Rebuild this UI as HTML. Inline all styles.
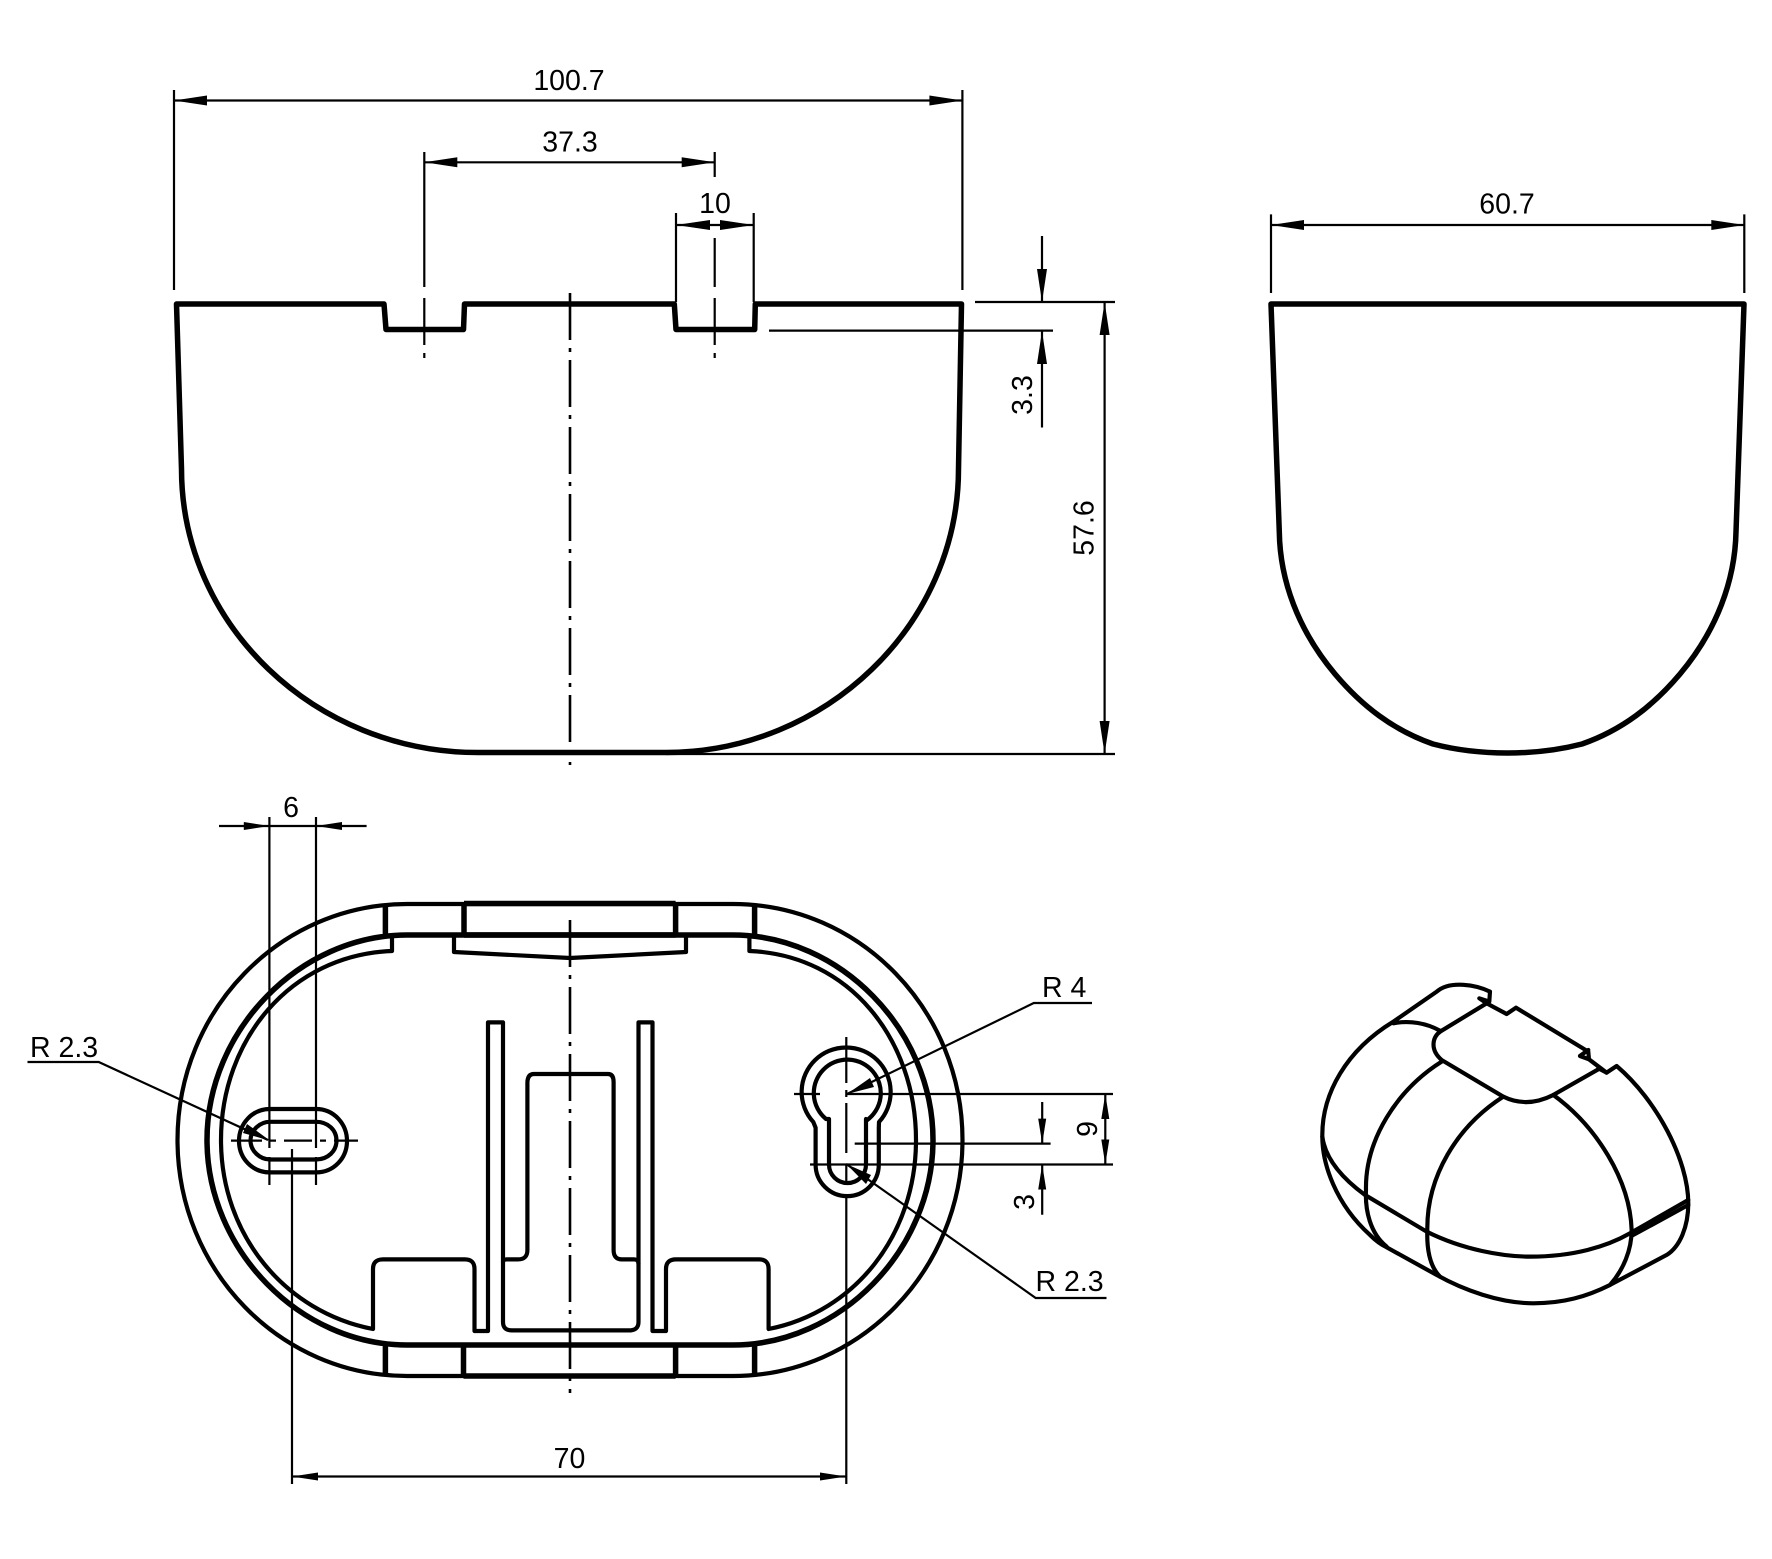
<!DOCTYPE html>
<html><head><meta charset="utf-8"><style>html,body{margin:0;padding:0;background:#fff}svg{display:block}text{font-family:"Liberation Sans",sans-serif;font-size:28.5px;fill:#000}</style></head>
<body>
<svg width="1772" height="1559" viewBox="0 0 1772 1559" xmlns="http://www.w3.org/2000/svg">
<rect width="1772" height="1559" fill="#fff"/>
<!-- thin lines -->
<g fill="none" stroke="#000" stroke-width="2.2">
<path d="M174,90V290M962.4,90V290M174,100.5H962.4"/>
<path d="M424.3,152V287M714.7,152V177M424.3,162.3H714.7"/>
<path d="M676,213V302M753.7,213V302M676,225H753.7"/>
<path d="M714.7,238V287"/>
<path d="M975,302H1115M769,330.6H1053M666,754H1115M1042,236V302M1042,331V427.5M1104.6,302V754"/>
<path d="M1271,214.4V293M1744.3,214.4V293M1271,225H1744.3"/>
<path d="M219,826H366.6M269.4,817V1148M316,817V1148M269.4,1157V1185M316,1157V1185"/>
<path d="M292,1149V1484M292,1476.5H846M846.3,1196V1484"/>
<path d="M27.5,1062H98.7L268,1140"/>
<path d="M1092,1003H1033.8L847,1094"/>
<path d="M1106.5,1298H1035.7L846.3,1164"/>
<path d="M847,1094H1113M830,1164.5H1113M854.7,1143.6H1050.6M1105.3,1094V1164.5M1042.2,1102V1143.6M1042.2,1164.5V1214.7"/>
<path d="M794,1094H820M810,1164.5H828"/>
<path d="M846.3,1037V1083M846.3,1090V1097M846.3,1103V1153M846.3,1165V1183"/>
</g>
<!-- centre lines -->
<g fill="none" stroke="#000" stroke-width="2.6" stroke-dasharray="47 8 4 8">
<path d="M570,293V765"/>
<path d="M570,920V1393"/>
</g>
<g fill="none" stroke="#000" stroke-width="2.2">
<path d="M424.3,298V345M424.3,353V358M714.7,298V345M714.7,353V358"/>
<path d="M231,1140.6H262M270,1140.6H276M284,1140.6H312M320,1140.6H326M334,1140.6H358"/>
</g>
<!-- arrows -->
<g fill="#000" stroke="none">
<polygon points="174,100.5 207,95.5 207,105.5"/><polygon points="962.4,100.5 929.4,95.5 929.4,105.5"/>
<polygon points="424.3,162.3 457.3,157.3 457.3,167.3"/><polygon points="714.7,162.3 681.7,157.3 681.7,167.3"/>
<polygon points="676,225 710,220 710,230"/><polygon points="753.7,225 720,220 720,230"/>
<polygon points="1042,302 1037,269 1047,269"/><polygon points="1042,331 1037,364 1047,364"/>
<polygon points="1104.6,302 1099.6,335 1109.6,335"/><polygon points="1104.6,754 1099.6,721 1109.6,721"/>
<polygon points="1271,225 1304,220 1304,230"/><polygon points="1744.3,225 1711.3,220 1711.3,230"/>
<polygon points="269.4,826 243.8,822 243.8,830"/><polygon points="316,826 342,822 342,830"/>
<polygon points="292,1476.5 318,1472.5 318,1480.5"/><polygon points="846,1476.5 820,1472.5 820,1480.5"/>
<polygon points="270,1140.6 247,1124 243,1133"/>
<polygon points="847,1094 870,1078 874,1087"/>
<polygon points="846.3,1164 871,1175 866,1184"/>
<polygon points="1105.3,1094 1101.3,1119 1109.3,1119"/><polygon points="1105.3,1164.5 1101.3,1139.5 1109.3,1139.5"/>
<polygon points="1042.2,1143.6 1038.2,1118.6 1046.2,1118.6"/><polygon points="1042.2,1164.5 1038.2,1189.5 1046.2,1189.5"/>
</g>
<!-- front and side profile -->
<g fill="none" stroke="#000" stroke-width="5.5" stroke-linejoin="round" stroke-linecap="round">
<path d="M176.5,304H384L386,329.5H463.5L464.5,304H674.3L676,329.5H754.7L755.3,304H961.5L958.5,469C958.5,625 825,752.5 666,752.5H478C315,752.5 181.5,625 181.5,469Z"/>
<path d="M1271,304H1744L1736,532C1735,580 1717,630 1680,674C1653,706 1622,730 1582,744C1555,751 1530,753 1507.5,753C1485,753 1460,751 1433,744C1393,730 1362,706 1335,674C1298,630 1280,580 1279.3,532Z"/>
</g>
<!-- bottom view medium lines -->
<g fill="none" stroke="#000" stroke-width="4.2" stroke-linejoin="round" stroke-linecap="round">
<path d="M407,904H733C860,904 962.5,1010 962.5,1140C962.5,1270 860,1376 733,1376H407C280,1376 177.5,1270 177.5,1140C177.5,1010 280,904 407,904Z"/>
<path d="M392,951C290,955 221,1040 221,1140C221,1235 285,1312 373,1329V1269Q373,1259.4 383,1259.4H465Q474.5,1259.4 474.5,1269V1331H488V1022.4H503V1322Q503,1330.4 512,1330.4H629Q638.5,1330.4 638.5,1322V1022.4H652.5V1331H666V1269Q666,1259.4 676,1259.4H759Q768.6,1259.4 768.6,1269V1329C855,1312 916,1235 916,1140C916,1040 850,955 749.4,951V936M392,951V936"/>
<path d="M503,1262Q503,1259.4 507,1259.4H518Q527.4,1259.4 527.4,1250V1083Q527.4,1074 534,1074H608Q613.6,1074 613.6,1082V1250Q613.6,1259.4 622,1259.4H634Q638.5,1259.4 638.5,1264"/>
<path d="M454,937V952L570,958L686,952V937"/>
<path d="M250.5,1140.6C250.5,1130 260,1121.8 270,1121.8H316C328,1121.8 336.5,1130 336.5,1140.6C336.5,1151 328,1159.5 316,1159.5H270C260,1159.5 250.5,1151 250.5,1140.6Z"/>
<path d="M270,1109H316C334,1109 347,1124 347,1141C347,1158 334,1172.4 316,1172.4H270C252,1172.4 239,1158 239,1141C239,1124 252,1109 270,1109Z"/>
<path d="M815.6,1127.7L813.3,1122A44.5,44.5 0 1 1 879,1122L878.8,1127.7V1164.5A31.6,31.6 0 0 1 815.6,1164.5Z"/>
<path d="M829,1164.5V1119H826A33.5,33.5 0 1 1 866.6,1120.5L866,1119V1164.5A18.5,18.5 0 0 1 829,1164.5Z"/>
</g>
<!-- bottom view thick lines -->
<g fill="none" stroke="#000" stroke-width="5.5" stroke-linejoin="round">
<path d="M385.4,904V936M464,904V936M675.6,904V936M754.6,904V936"/>
<path d="M385.4,1345V1376M463.5,1345V1376M675.6,1345V1376M754.6,1345V1376"/>
<path d="M464,903.5H675.6M463.5,1376H675.6M464,935H675.6"/>
<path d="M407,935H733C840,935 933,1030 933,1140C933,1250 840,1345 733,1345H407C300,1345 207,1250 207,1140C207,1030 300,935 407,935Z"/>
</g>
<!-- isometric view -->
<g transform="translate(1290,960) scale(.3333)" fill="none" stroke="#000" stroke-width="12.5" stroke-linejoin="round" stroke-linecap="round">
<path d="M600,95C560,75 480,60 440,95L310,185C170,270 95,400 97,530C97,610 135,730 240,825C255,840 270,852 290,862L440,945C520,990 630,1030 730,1030C820,1030 890,1010 960,975L1130,885C1170,860 1195,800 1195,730C1195,600 1100,420 980,318L950,338L925,325"/>
<path d="M600,95L598,125L568,115L590,130"/>
<path d="M590,130L455,212C425,230 420,270 455,300L640,410C690,435 740,430 790,405L925,328"/>
<path d="M590,130L650,162L678,143L895,275L897,298L870,288L895,270M897,298L950,338"/>
<path d="M310,190C360,180 410,190 450,212"/>
<path d="M455,305C320,390 225,540 228,690C225,750 240,820 290,860"/>
<path d="M640,410C500,500 410,650 412,810C410,870 420,920 450,950"/>
<path d="M790,405C920,500 1020,660 1025,810C1025,870 1000,930 960,975"/>
<path d="M97,530C105,590 150,650 225,705L410,815C520,870 640,890 720,890C850,890 950,860 1020,820L1195,720"/>
<path d="M1030,825L1195,735"/>
</g>
<!-- labels -->
<text x="569" y="90" text-anchor="middle">100.7</text>
<text x="570" y="151.5" text-anchor="middle">37.3</text>
<text x="715" y="213" text-anchor="middle">10</text>
<text x="1507" y="213.5" text-anchor="middle">60.7</text>
<text x="291" y="817" text-anchor="middle">6</text>
<text x="569.5" y="1468" text-anchor="middle">70</text>
<text x="30" y="1057">R 2.3</text>
<text x="1042" y="997">R 4</text>
<text x="1035.5" y="1291">R 2.3</text>
<text transform="translate(1032,395) rotate(-90)" text-anchor="middle">3.3</text>
<text transform="translate(1093.5,528) rotate(-90)" text-anchor="middle">57.6</text>
<text transform="translate(1097,1129) rotate(-90)" text-anchor="middle">9</text>
<text transform="translate(1034,1202) rotate(-90)" text-anchor="middle">3</text>
</svg>
</body></html>
